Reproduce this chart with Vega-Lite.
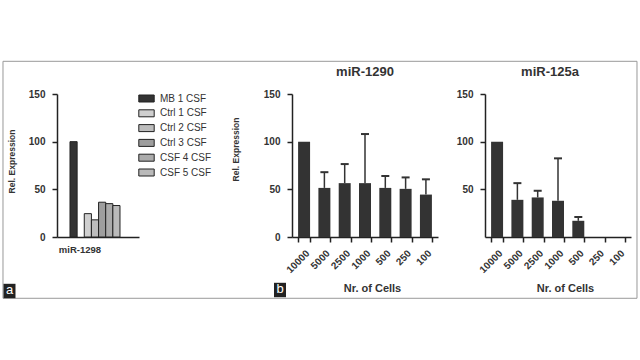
{
  "$schema": "https://vega.github.io/schema/vega-lite/v6.json",
  "background": "white",
  "padding": {"left": 0, "top": 59, "right": 2, "bottom": 2},
  "bounds": "flush",
  "spacing": 153,
  "datasets": {
    "cells": [
      {"mirna": "miR-1290", "cells": "10000", "value": 100},
      {"mirna": "miR-1290", "cells": "5000", "value": 51.5, "upper": 68},
      {"mirna": "miR-1290", "cells": "2500", "value": 56.5, "upper": 76.5},
      {"mirna": "miR-1290", "cells": "1000", "value": 56.5, "upper": 108},
      {"mirna": "miR-1290", "cells": "500", "value": 51.5, "upper": 64},
      {"mirna": "miR-1290", "cells": "250", "value": 50.5, "upper": 62.5},
      {"mirna": "miR-1290", "cells": "100", "value": 44.5, "upper": 60.5},
      {"mirna": "miR-125a", "cells": "10000", "value": 100},
      {"mirna": "miR-125a", "cells": "5000", "value": 39, "upper": 56.5},
      {"mirna": "miR-125a", "cells": "2500", "value": 41.5, "upper": 48.5},
      {"mirna": "miR-125a", "cells": "1000", "value": 38, "upper": 82.5},
      {"mirna": "miR-125a", "cells": "500", "value": 17, "upper": 21},
      {"mirna": "miR-125a", "cells": "250", "value": 0},
      {"mirna": "miR-125a", "cells": "100", "value": 0}
    ]
  },
  "config": {
    "view": {"stroke": null},
    "font": "Liberation Sans",
    "axis": {
      "grid": false,
      "domainColor": "#222",
      "domainWidth": 1.5,
      "tickColor": "#222",
      "tickWidth": 1.5,
      "tickSize": 5,
      "labelFont": "Liberation Sans",
      "labelFontWeight": "bold",
      "labelFontSize": 10,
      "labelColor": "#333",
      "titleFont": "Liberation Sans",
      "titleFontWeight": "bold",
      "titleColor": "#333"
    },
    "title": {"font": "Liberation Sans", "fontWeight": "bold", "fontSize": 13, "color": "#333", "offset": 10}
  },
  "hconcat": [
    {
      "width": 82,
      "height": 143,
      "data": {"values": [
        {"mirna": "miR-1298", "series": "MB 1 CSF", "value": 100},
        {"mirna": "miR-1298", "series": "Ctrl 1 CSF", "value": 24.5},
        {"mirna": "miR-1298", "series": "Ctrl 2 CSF", "value": 18},
        {"mirna": "miR-1298", "series": "Ctrl 3 CSF", "value": 36.5},
        {"mirna": "miR-1298", "series": "CSF 4 CSF", "value": 35},
        {"mirna": "miR-1298", "series": "CSF 5 CSF", "value": 33}
      ]},
      "layer": [
        {
          "mark": {"type": "bar", "stroke": "#222", "strokeWidth": 1},
          "encoding": {
            "x": {"field": "mirna", "type": "nominal",
                  "scale": {"paddingInner": 0, "paddingOuter": 0.32, "align": 0.406},
                  "axis": {"title": null, "ticks": false, "labelAngle": 0, "labelOffset": -15, "labelPadding": 7, "labelFontSize": 9.5}},
            "xOffset": {"field": "series", "type": "nominal",
                        "scale": {"domain": ["MB 1 CSF", " ", "Ctrl 1 CSF", "Ctrl 2 CSF", "Ctrl 3 CSF", "CSF 4 CSF", "CSF 5 CSF"], "paddingInner": 0, "paddingOuter": 0}},
            "y": {"field": "value", "type": "quantitative", "scale": {"domain": [0, 150], "nice": false},
                  "axis": {"values": [0, 50, 100, 150], "title": "Rel. Expression", "titleFontSize": 8.5, "titlePadding": 12, "titleY": 67, "labelPadding": 7}},
            "fill": {"field": "series", "type": "nominal",
                     "scale": {"domain": ["MB 1 CSF", "Ctrl 1 CSF", "Ctrl 2 CSF", "Ctrl 3 CSF", "CSF 4 CSF", "CSF 5 CSF"],
                               "range": ["#333333", "#cfcfcf", "#bdbdbd", "#9e9e9e", "#ababab", "#bababa"]},
                     "legend": {"title": null, "orient": "none", "legendX": 82, "legendY": -3, "padding": 0,
                                "symbolType": "M-1.1,-0.5H1.1V0.5H-1.1Z", "symbolSize": 196,
                                "symbolStrokeColor": "#222", "symbolStrokeWidth": 1,
                                "labelFont": "Liberation Sans", "labelFontSize": 10, "labelColor": "#333",
                                "labelOffset": 6, "rowPadding": 1.8}}
          }
        },
        {
          "data": {"values": [{}]},
          "mark": {"type": "point", "shape": "M-1,-0.3738H1V0.3738H-1Z", "size": 401956, "filled": false,
                   "stroke": "#999", "strokeWidth": 1, "opacity": 1, "xOffset": 225},
          "encoding": {"x": {"datum": "miR-1298", "type": "nominal"}, "y": {"datum": 60, "type": "quantitative"}}
        },
        {
          "data": {"values": [{}]},
          "mark": {"type": "point", "shape": "M-1,-1.2H1V1.2H-1Z", "size": 144, "filled": true,
                   "color": "#222", "opacity": 1, "xOffset": -85.5, "yOffset": 54},
          "encoding": {"x": {"datum": "miR-1298", "type": "nominal"}, "y": {"datum": 0, "type": "quantitative"}}
        },
        {
          "data": {"values": [{}]},
          "mark": {"type": "text", "text": "a", "color": "white", "fontSize": 13, "font": "Liberation Sans", "dx": -85.5, "dy": 53},
          "encoding": {"x": {"datum": "miR-1298", "type": "nominal"}, "y": {"datum": 0, "type": "quantitative"}}
        },
        {
          "data": {"values": [{}]},
          "mark": {"type": "point", "shape": "M-1,-1.2H1V1.2H-1Z", "size": 144, "filled": true,
                   "color": "#222", "opacity": 1, "xOffset": 185, "yOffset": 53},
          "encoding": {"x": {"datum": "miR-1298", "type": "nominal"}, "y": {"datum": 0, "type": "quantitative"}}
        },
        {
          "data": {"values": [{}]},
          "mark": {"type": "text", "text": "b", "color": "white", "fontSize": 13, "font": "Liberation Sans", "dx": 185, "dy": 52},
          "encoding": {"x": {"datum": "miR-1298", "type": "nominal"}, "y": {"datum": 0, "type": "quantitative"}}
        }
      ]
    },
    {
      "bounds": "flush",
      "spacing": 47,
      "hconcat": [
        {
          "width": 146,
          "height": 143,
          "title": {"text": "miR-1290"},
          "data": {"name": "cells"},
          "transform": [{"filter": "datum.mirna === 'miR-1290'"}],
          "layer": [
            {
              "mark": {"type": "bar", "color": "#333333"},
              "encoding": {
                "x": {"field": "cells", "type": "nominal",
                      "scale": {"domain": ["10000", "5000", "2500", "1000", "500", "250", "100"], "paddingInner": 0.41, "paddingOuter": 0.3},
                      "axis": {"title": "Nr. of Cells", "labelAngle": -45, "tickBand": "extent", "labelPadding": 6, "titlePadding": 8, "titleFontSize": 11, "titleX": 80}},
                "y": {"field": "value", "type": "quantitative", "scale": {"domain": [0, 150], "nice": false},
                      "axis": {"values": [0, 50, 100, 150], "title": "Rel. Expression", "titleFontSize": 8.5, "titlePadding": 23, "titleY": 55, "labelPadding": 7}}
              }
            },
            {
              "transform": [{"filter": "isValid(datum.upper)"}],
              "mark": {"type": "rule", "color": "#333333", "strokeWidth": 1.5},
              "encoding": {
                "x": {"field": "cells", "type": "nominal"},
                "y": {"field": "value", "type": "quantitative"},
                "y2": {"field": "upper"}
              }
            },
            {
              "transform": [{"filter": "isValid(datum.upper)"}],
              "mark": {"type": "tick", "color": "#333333", "thickness": 2, "size": 8, "opacity": 1},
              "encoding": {
                "x": {"field": "cells", "type": "nominal"},
                "y": {"field": "upper", "type": "quantitative"}
              }
            }
          ]
        },
        {
          "width": 146,
          "height": 143,
          "title": {"text": "miR-125a", "dx": -8},
          "data": {"name": "cells"},
          "transform": [{"filter": "datum.mirna === 'miR-125a'"}],
          "layer": [
            {
              "mark": {"type": "bar", "color": "#333333"},
              "encoding": {
                "x": {"field": "cells", "type": "nominal",
                      "scale": {"domain": ["10000", "5000", "2500", "1000", "500", "250", "100"], "paddingInner": 0.41, "paddingOuter": 0.3},
                      "axis": {"title": "Nr. of Cells", "labelAngle": -45, "tickBand": "extent", "labelPadding": 6, "titlePadding": 8, "titleFontSize": 11, "titleX": 80}},
                "y": {"field": "value", "type": "quantitative", "scale": {"domain": [0, 150], "nice": false},
                      "axis": {"values": [50, 100, 150], "title": null, "labelPadding": 7}}
              }
            },
            {
              "transform": [{"filter": "isValid(datum.upper)"}],
              "mark": {"type": "rule", "color": "#333333", "strokeWidth": 1.5},
              "encoding": {
                "x": {"field": "cells", "type": "nominal"},
                "y": {"field": "value", "type": "quantitative"},
                "y2": {"field": "upper"}
              }
            },
            {
              "transform": [{"filter": "isValid(datum.upper)"}],
              "mark": {"type": "tick", "color": "#333333", "thickness": 2, "size": 8, "opacity": 1},
              "encoding": {
                "x": {"field": "cells", "type": "nominal"},
                "y": {"field": "upper", "type": "quantitative"}
              }
            }
          ]
        }
      ]
    }
  ]
}
